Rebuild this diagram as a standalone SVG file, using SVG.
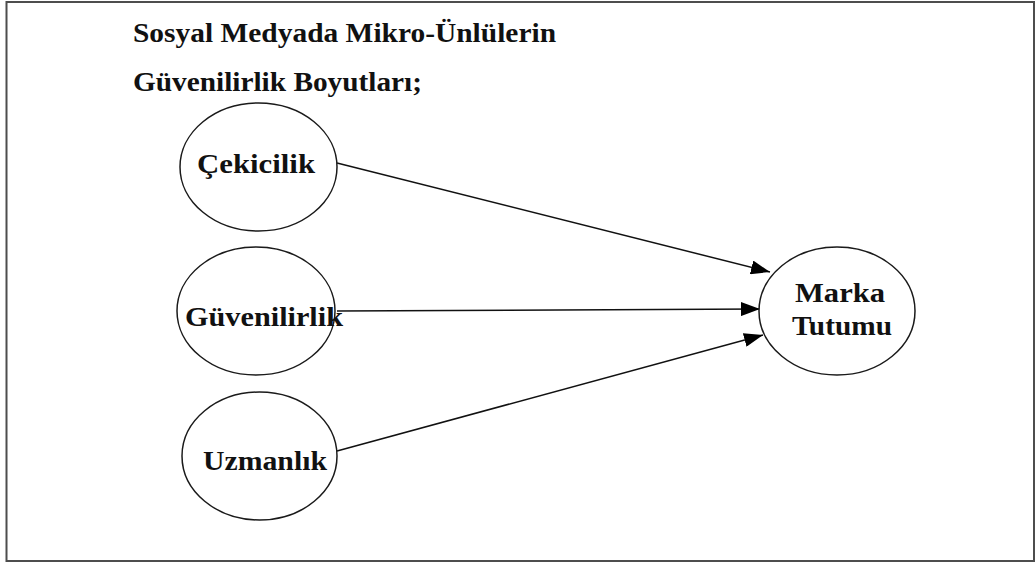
<svg xmlns="http://www.w3.org/2000/svg" width="1036" height="563" viewBox="0 0 1036 563">
  <style>
    .node { fill: #ffffff; stroke: #1a1a1a; stroke-width: 1.5; }
    .lbl { font-family: "Liberation Serif", "Times New Roman", serif; font-weight: bold; font-size: 28px; fill: #111111; }
    .edge { stroke: #111111; stroke-width: 1.5; fill: none; }
  </style>
  <defs>
    <marker id="arrow" markerUnits="userSpaceOnUse" markerWidth="20" markerHeight="14" refX="19" refY="7" orient="auto">
      <path d="M0,0 L19,7 L0,14 Z" fill="#000000"/>
    </marker>
  </defs>
  <rect x="0" y="0" width="1036" height="563" fill="#ffffff"/>
  <rect x="6.5" y="2" width="1027.5" height="559" fill="none" stroke="#4d4d4d" stroke-width="2"/>

  <g id="title">
    <text class="lbl" x="133" y="42" textLength="423" lengthAdjust="spacingAndGlyphs">Sosyal Medyada Mikro-Ünlülerin</text>
    <text class="lbl" x="133" y="91" textLength="289" lengthAdjust="spacingAndGlyphs">Güvenilirlik Boyutları;</text>
  </g>

  <g id="connectors">
    <path class="edge" d="M337,163 L770,272" marker-end="url(#arrow)"/>
    <path class="edge" d="M337,311 L760,309" marker-end="url(#arrow)"/>
    <path class="edge" d="M337,451 L763,335" marker-end="url(#arrow)"/>
  </g>

  <g id="node-cekicilik">
    <ellipse class="node" cx="258.5" cy="167" rx="78.5" ry="64"/>
    <text class="lbl" x="197" y="173" textLength="118" lengthAdjust="spacingAndGlyphs">Çekicilik</text>
  </g>
  <g id="node-guvenilirlik">
    <ellipse class="node" cx="256" cy="311" rx="79" ry="64"/>
    <text class="lbl" x="185" y="326" textLength="158" lengthAdjust="spacingAndGlyphs">Güvenilirlik</text>
  </g>
  <g id="node-uzmanlik">
    <ellipse class="node" cx="259.5" cy="456" rx="77.5" ry="64"/>
    <text class="lbl" x="203" y="470" textLength="124" lengthAdjust="spacingAndGlyphs">Uzmanlık</text>
  </g>
  <g id="node-marka">
    <ellipse class="node" cx="837" cy="311" rx="78" ry="64"/>
    <text class="lbl" x="795" y="302" textLength="90" lengthAdjust="spacingAndGlyphs">Marka</text>
    <text class="lbl" x="792" y="335" textLength="100" lengthAdjust="spacingAndGlyphs">Tutumu</text>
  </g>
</svg>
